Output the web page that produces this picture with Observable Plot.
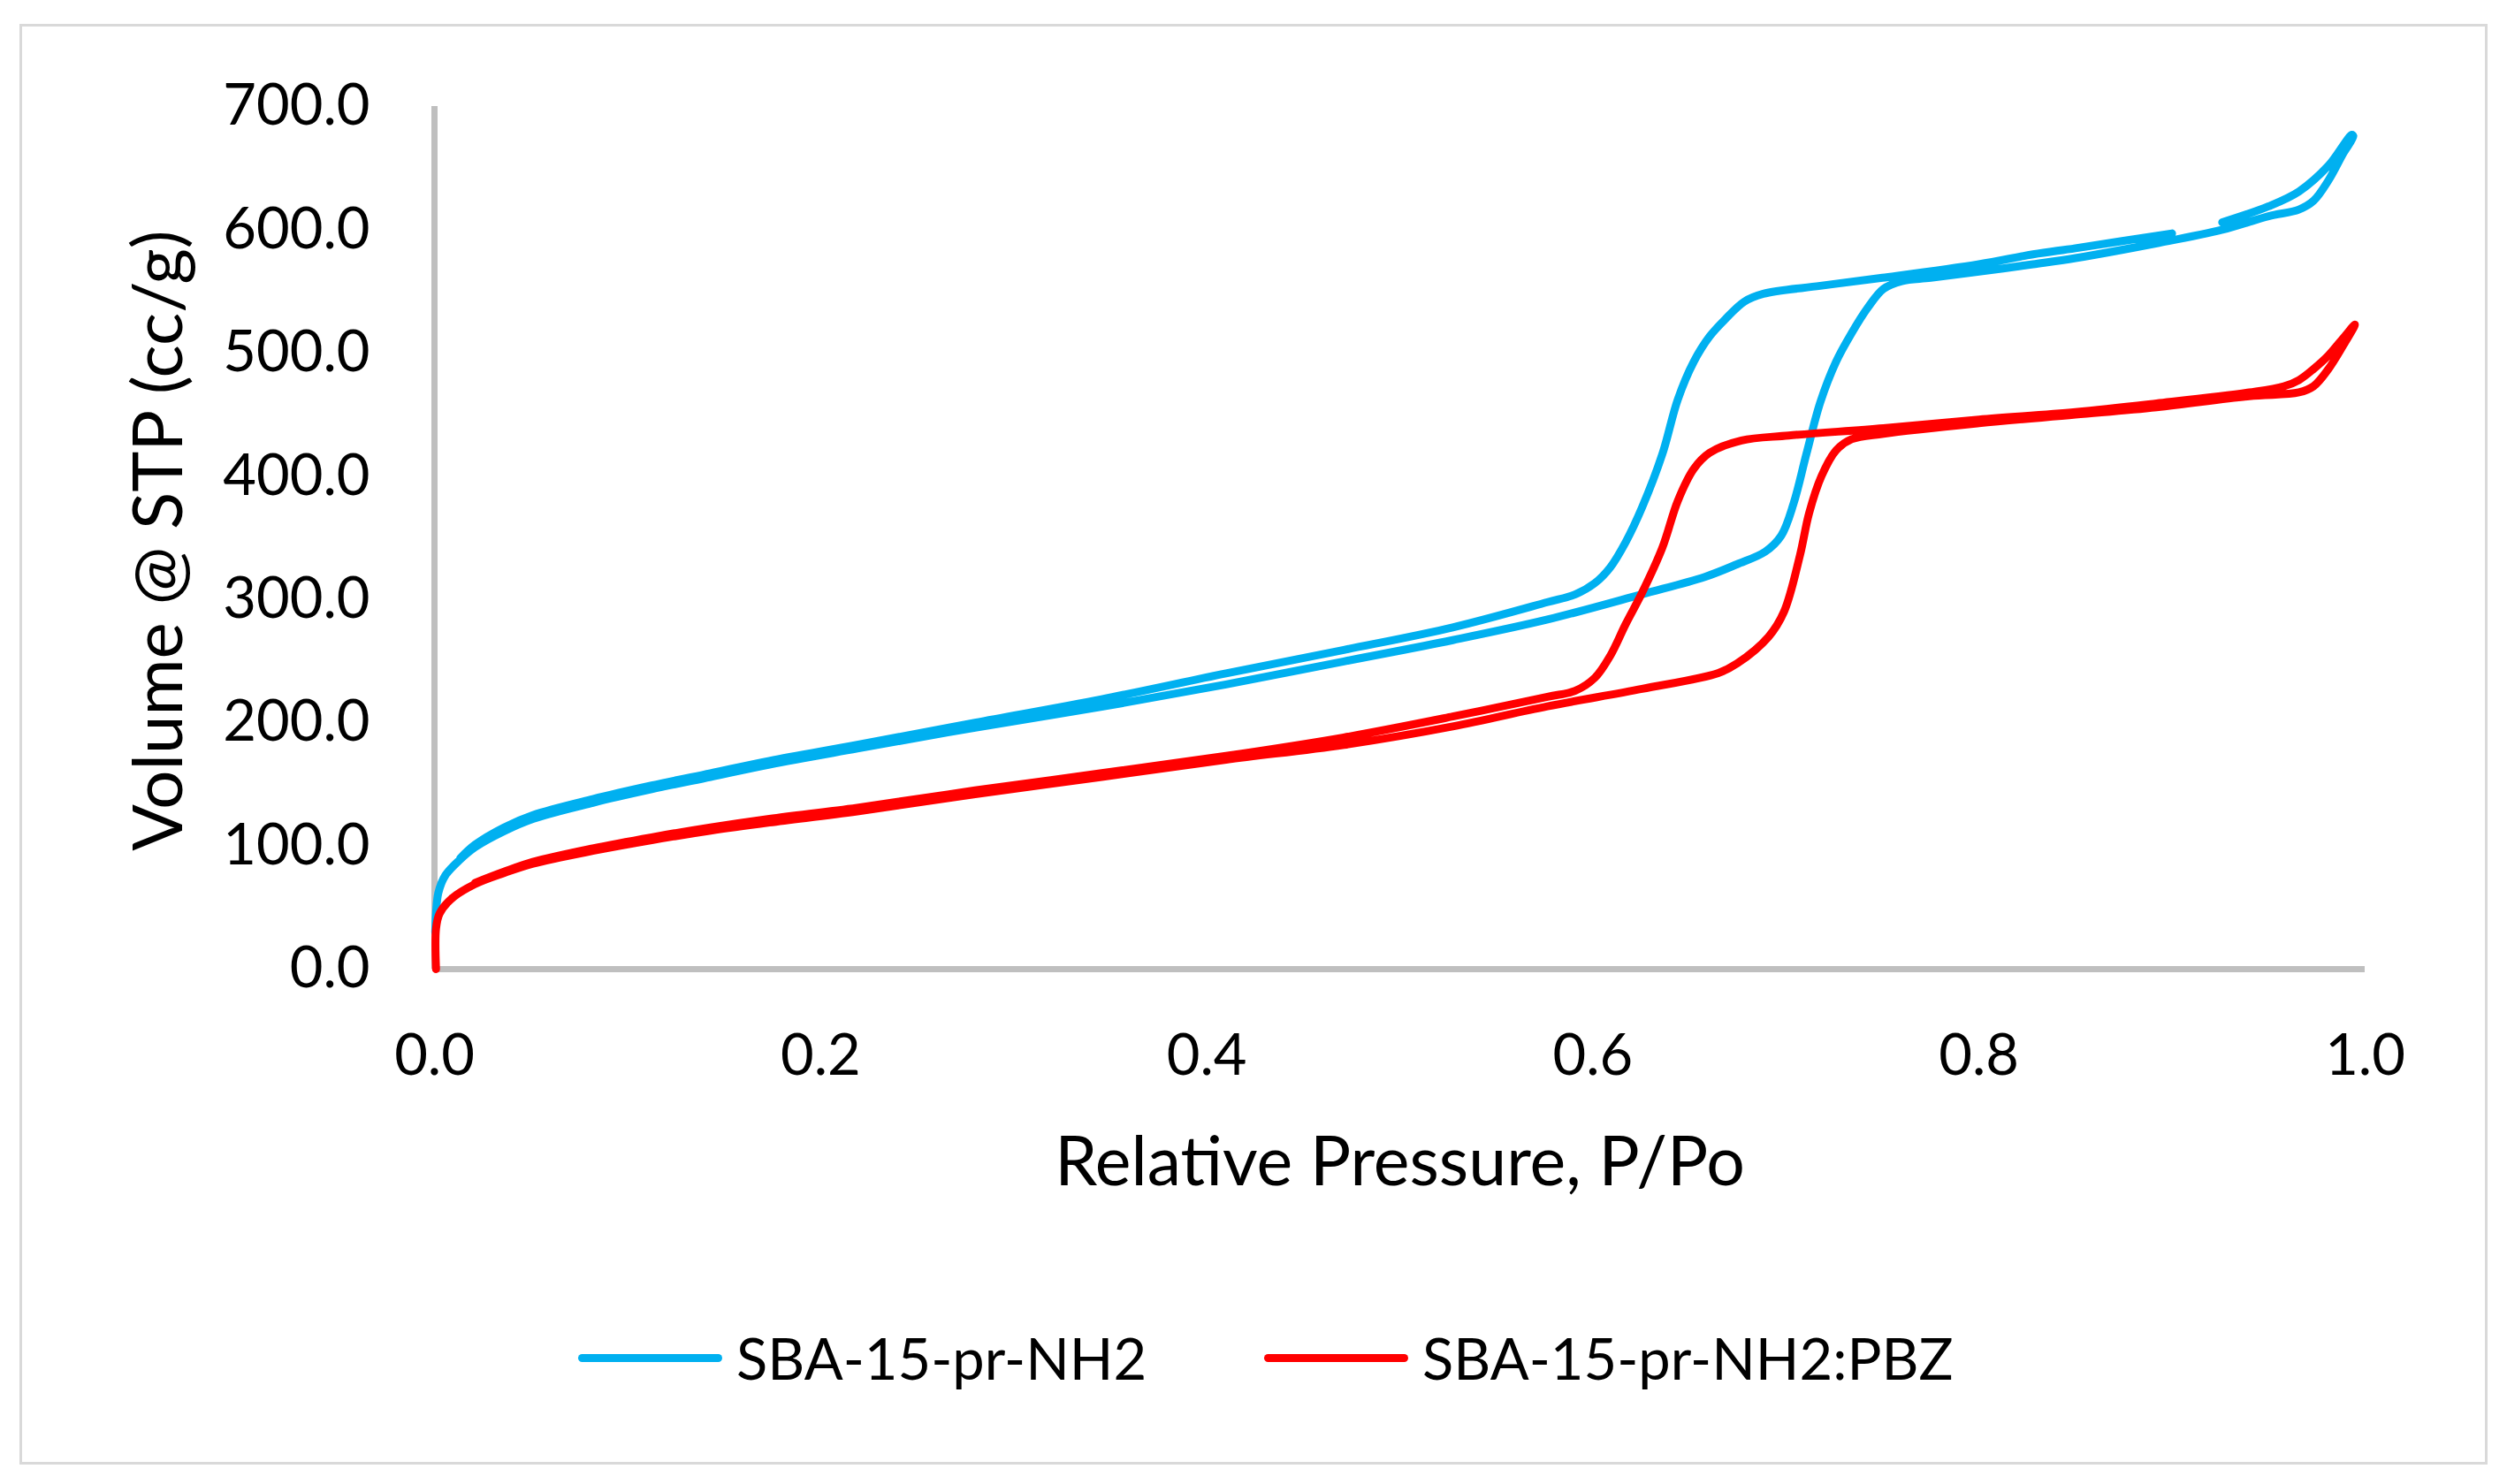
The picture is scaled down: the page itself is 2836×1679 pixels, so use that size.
<!DOCTYPE html>
<html>
<head>
<meta charset="utf-8">
<script src="https://cdn.jsdelivr.net/npm/d3@7"></script>
<script src="https://cdn.jsdelivr.net/npm/@observablehq/plot@0.6"></script>
<style>
  html, body { margin: 0; padding: 0; background: #fff; overflow: hidden; }
  #wrap { position: relative; width: 2836px; height: 1679px; font-family: Lato, "Open Sans", sans-serif; }
  #frame { position: absolute; left: 22px; top: 27px; width: 2786px; height: 1624px; border: 3px solid #D9D9D9; }
  #chart { position: absolute; left: 0; top: 0; }
  .leg { position: absolute; top: 1504px; height: 65px; display: flex; align-items: center; font-size: 65px; line-height: 65px; color: #000; white-space: nowrap; }
  .sw { width: 163px; height: 9px; border-radius: 5px; margin-right: 16px; }
</style>
</head>
<body>
<div id="wrap">
  <div id="frame"></div>
  <div id="chart"></div>
  <div id="legend"></div>
</div>
<script>
// ---- Data ----
const seriesNames = ["SBA-15-pr-NH2", "SBA-15-pr-NH2:PBZ"];
const seriesColors = ["#00B0F0", "#FF0000"];

// SBA-15-pr-NH2 : adsorption branch
const blueAdsP = [0.0004,0.0008,0.002,0.0056,0.0133,0.021,0.036,0.051,0.082,0.1125,0.143,0.1735,0.219,0.28,0.3456,0.41,0.471,0.5274,0.5765,0.6255,0.658,0.6746,0.6893,0.6975,0.704,0.7106,0.7178,0.726,0.734,0.7423,0.7505,0.760,0.775,0.80,0.828,0.85,0.892,0.926,0.95,0.9657,0.9733,0.981,0.9886,0.9939];
const blueAdsV = [30,45,62,76,89,99,112,122,135,146,156,166,179,196,213,231,249.7,267,283.7,304.2,318.3,328.5,338.8,351.6,378,418,460,493,516,536.5,552,558.3,561,566,572,577,589,600,611,616.4,623.5,640,661.8,676];
// SBA-15-pr-NH2 : desorption branch (NaN = break in the recorded line)
const blueDesP = [0.9931,0.981,0.9657,0.95,0.926,NaN,0.900,0.85,0.828,0.80,0.75,0.7178,0.6883,0.6785,0.6687,0.6605,0.6523,0.644,0.636,0.6255,0.617,0.609,0.601,0.591,0.5765,0.5274,0.471,0.41,0.3456,0.28,0.219,0.1735,0.143,0.1125,0.082,0.051,0.036,0.021,0.0133];
const blueDesV = [677,652,631,619,606,NaN,597,585,580,572,561,554.5,548,541.7,527.6,513.5,493,462.3,418,374.7,346.5,326,313.2,304.2,297.8,277.3,259,240,219,200,182,169,159,149,138,125,115,101,90];

// SBA-15-pr-NH2:PBZ : adsorption branch
const redAdsP = [0.0008,0.0008,0.0026,0.0087,0.021,0.036,0.051,0.082,0.1125,0.143,0.1735,0.219,0.28,0.3456,0.41,0.471,0.5274,0.5765,0.6255,0.665,0.6746,0.691,0.699,0.7073,0.712,0.7184,0.726,0.734,0.7505,0.80,0.85,0.892,0.94,0.9657,0.9733,0.981,0.9886,0.9947];
const redAdsV = [0,33,45,57,69,78,85.6,96,104.7,112.4,119,128,142,156,170,182,197,213.3,227.4,240.3,247.9,269.7,290,336,370,400,421,430,434.5,443,450,456,465,468,473,487,506,523];
// SBA-15-pr-NH2:PBZ : desorption branch
const redDesP = [0.9886,0.981,0.9733,0.9657,0.958,0.94,0.892,0.85,0.80,0.7505,0.7014,0.677,0.6605,0.6523,0.644,0.636,0.6255,0.617,0.609,0.601,0.591,0.5765,0.5274,0.471,0.41,0.3456,0.28,0.219,0.1735,0.143,0.1125,0.082,0.051,0.036,0.021];
const redDesV = [512,498,487,478,473,468,459,452,446,439,433,429,419,406,380,342,305.5,280,254.3,236.4,226,221,205,188,173,159,145,131,122,115,107,98,87,79,70];

const xTicks = [0, 0.2, 0.4, 0.6, 0.8, 1.0];
const yTicks = [0, 100, 200, 300, 400, 500, 600, 700];
const xTitle = "Relative Pressure, P/Po";
const yTitle = "Volume @ STP (cc/g)";

// ---- Build tables ----
function rows(ps, vs) { return ps.map((p, i) => ({p, v: vs[i]})); }
const blueRows = rows(blueAdsP.concat(blueDesP), blueAdsV.concat(blueDesV));
const redRows = rows(redAdsP.concat(redDesP), redAdsV.concat(redDesV));

const lineOpts = (color) => ({x: "p", y: "v", stroke: color, strokeWidth: 9, curve: "catmull-rom", strokeLinecap: "round", strokeLinejoin: "round"});

const chart = Plot.plot({
  width: 2836,
  height: 1420,
  marginLeft: 491,
  marginRight: 161,
  marginTop: 120,
  marginBottom: 324,
  style: {fontFamily: "Lato, 'Open Sans', sans-serif", fontSize: "65px", color: "#000", background: "transparent", overflow: "visible"},
  x: {domain: [0, 1]},
  y: {domain: [0, 700]},
  marks: [
    Plot.ruleX([0], {stroke: "#BFBFBF", strokeWidth: 7}),
    Plot.ruleY([0], {stroke: "#BFBFBF", strokeWidth: 7}),
    Plot.axisX(xTicks, {tickSize: 0, tickPadding: 73, tickFormat: d => d.toFixed(1), label: null, fontSize: 65}),
    Plot.axisY(yTicks, {tickSize: 0, tickPadding: 73, tickFormat: d => d.toFixed(1), label: null, fontSize: 65}),
    Plot.line(blueRows, lineOpts(seriesColors[0])),
    Plot.line(redRows, lineOpts(seriesColors[1])),
    Plot.text([yTitle], {text: d => d, frameAnchor: "left", rotate: -90, dx: -310, dy: 3, fontSize: 78, lineAnchor: "middle", textAnchor: "middle", fill: "#000"}),
    Plot.text([xTitle], {text: d => d, frameAnchor: "bottom", lineAnchor: "top", dy: 190, fontSize: 77, textAnchor: "middle", fill: "#000"})
  ]
});
document.getElementById("chart").appendChild(chart);

// ---- Legend ----
const legendLeft = [654, 1430];
const legend = document.getElementById("legend");
seriesNames.forEach((name, i) => {
  const item = document.createElement("div");
  item.className = "leg";
  item.style.left = legendLeft[i] + "px";
  const sw = document.createElement("div");
  sw.className = "sw";
  sw.style.background = seriesColors[i];
  const label = document.createElement("span");
  label.textContent = name;
  item.appendChild(sw);
  item.appendChild(label);
  legend.appendChild(item);
});
</script>
</body>
</html>
